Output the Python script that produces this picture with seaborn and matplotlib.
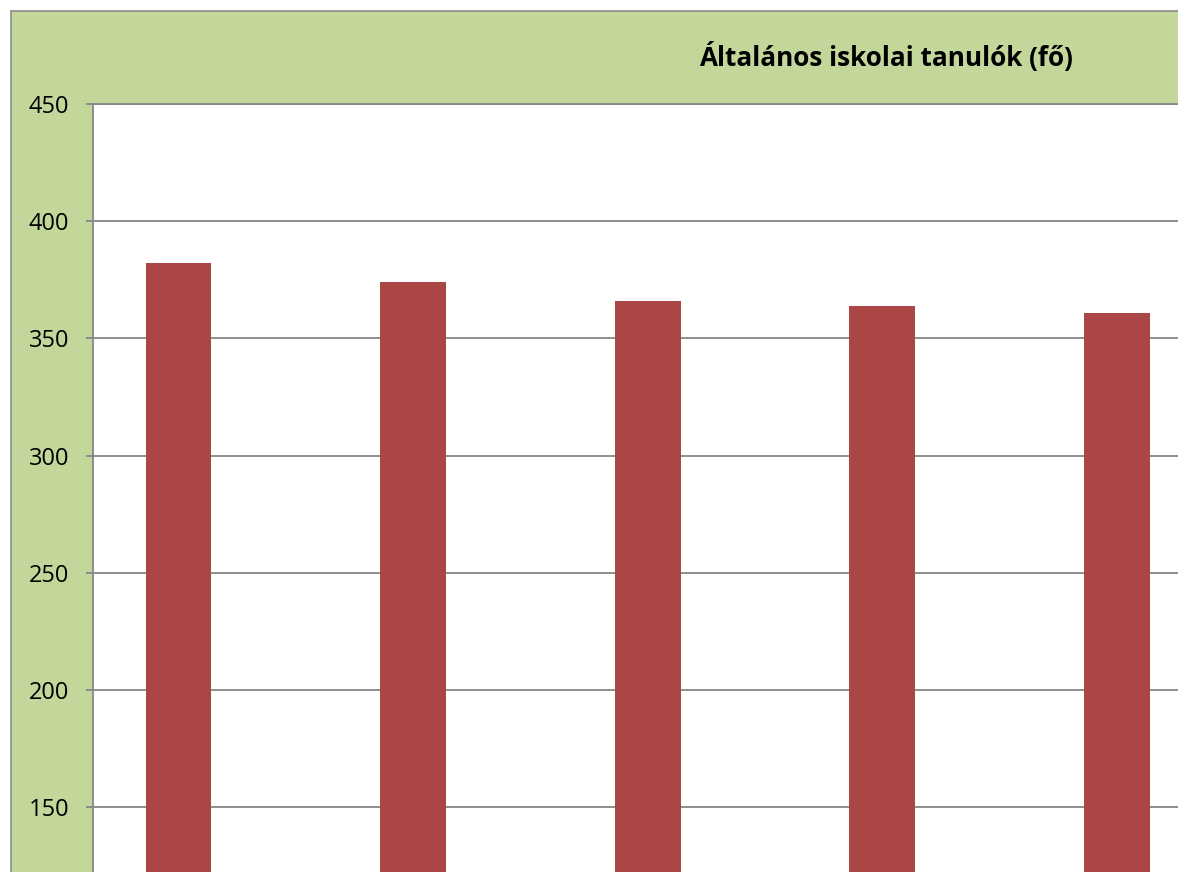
import matplotlib
matplotlib.use("Agg")
import matplotlib.pyplot as plt
import matplotlib.patches as patches
import seaborn as sns

# data (x labels are cropped out of the reference)
years = ["2008", "2009", "2010", "2011", "2012"]
students = [382, 374, 366, 364, 361]
title = "Általános iskolai tanulók (fő)"

sns.set_style("white")
plt.rcParams['font.family'] = ['Open Sans', 'DejaVu Sans']

W, H = 1178, 872
fig = plt.figure(figsize=(W / 100, H / 100), dpi=100)
fig.patch.set_facecolor("white")

# green chart area, cropped at right/bottom
fig.patches.append(patches.Rectangle((11 / W, -0.1), 1.2, 1 - 11 / H + 0.1,
                                     transform=fig.transFigure, facecolor="#C4D79B",
                                     edgecolor="#8C8C8C", linewidth=1.2, zorder=-5))

ax = fig.add_axes([93 / W, 0, 1 - 93 / W, 1 - 104 / H])
ax.set_zorder(1)
ax.set_facecolor("white")

sns.barplot(x=years, y=students, color="#AA4644", width=0.28, linewidth=0,
            saturation=1, ax=ax, zorder=3)

ax.set_xlim(-0.364, 4.26)
ax.set_ylim(122.3, 450)
ax.set_yticks(range(150, 451, 50))
ax.yaxis.grid(True, color="#868686", linewidth=1.3, zorder=1)
ax.set_axisbelow(True)
ax.set_xticks([])
ax.set_xlabel("")
ax.set_ylabel("")

for side in ["right", "bottom"]:
    ax.spines[side].set_visible(False)
for side in ["left", "top"]:
    ax.spines[side].set_color("#868686")
    ax.spines[side].set_linewidth(1.3)

ax.tick_params(axis="y", which="major", left=True, length=5, width=1.3,
               color="#868686", labelsize=17, pad=12, labelcolor="black")

fig.text(886 / W, 1 - 57 / H, title, ha="center", va="center",
         fontsize=18.8, fontweight="bold", color="black")

fig.savefig("out.png", dpi=100, facecolor=fig.get_facecolor())
